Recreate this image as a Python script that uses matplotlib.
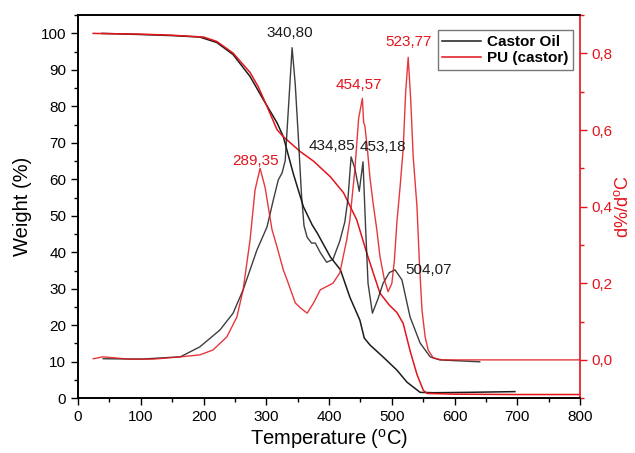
import numpy as np
import matplotlib
matplotlib.use('Agg')
import matplotlib.pyplot as plt
from matplotlib.ticker import MultipleLocator, FuncFormatter

plt.rcParams['font.family'] = ['Liberation Sans', 'DejaVu Sans']
plt.rcParams['mathtext.fontset'] = 'custom'
plt.rcParams['mathtext.rm'] = 'Liberation Sans'

# TGA - castor oil (weight %)
castor_T = [38, 60, 100, 150, 194, 221, 247, 274, 295, 317, 327, 343, 359, 373, 381, 402, 418, 433,
            449, 456, 465, 486, 508, 524, 545, 567, 620, 696]
castor_W = [100.0, 99.9, 99.7, 99.4, 99.0, 97.5, 94.2, 88.2, 81.9, 75.5, 71.7, 61.5, 52.5, 47.5, 45.3,
            38.7, 35.2, 27.7, 21.4, 16.5, 14.6, 11.3, 7.7, 4.4, 1.6, 1.5, 1.6, 1.8]

# TGA - PU (castor)
pu_T = [24, 60, 100, 150, 200, 221, 247, 274, 287, 301, 317, 327, 354, 375, 390, 402, 423, 444, 460,
        470, 481, 496, 508, 518, 529, 540, 550, 556, 600, 700, 800]
pu_W = [100.0, 99.9, 99.8, 99.5, 99.0, 97.8, 94.6, 89.3, 85.4, 80.0, 73.6, 71.7, 67.6, 65.0, 62.6,
        60.7, 56.3, 48.9, 39.8, 34.5, 28.8, 25.5, 23.5, 20.5, 13.0, 6.5, 2.2, 1.3, 1.1, 1.0, 1.0]

# DTG - castor oil (d%/dC)
castor_dT = [40, 100, 163, 194, 226, 247, 263, 285, 301, 311, 319, 325, 330, 336, 341, 346, 351, 356,
             360, 365, 372, 378, 386, 396, 406, 417, 425, 430, 435, 441, 448, 454, 458, 462, 469, 478,
             486, 496, 505, 516, 529, 545, 561, 576, 600, 640]
castor_D = [0.003, 0.002, 0.008, 0.034, 0.078, 0.122, 0.183, 0.287, 0.347, 0.417, 0.47, 0.488, 0.52,
            0.68, 0.815, 0.72, 0.58, 0.43, 0.35, 0.32, 0.305, 0.305, 0.28, 0.255, 0.262, 0.31, 0.36,
            0.42, 0.53, 0.50, 0.44, 0.517, 0.35, 0.2, 0.122, 0.16, 0.2, 0.228, 0.235, 0.209, 0.112,
            0.044, 0.008, 0.0, -0.002, -0.005]

# DTG - PU (castor)
pu_dT = [24, 40, 80, 120, 163, 194, 215, 237, 253, 263, 274, 282, 290, 298, 309, 317, 327, 333, 346,
         354, 365, 375, 386, 406, 417, 428, 433, 441, 447, 453, 455, 457, 461, 465, 470, 476, 481, 488,
         494, 500, 504, 508, 513, 518, 522, 526, 530, 534, 540, 544, 548, 553, 558, 566, 580, 700, 800]
pu_D = [0.003, 0.008, 0.002, 0.002, 0.008, 0.013, 0.026, 0.06, 0.112, 0.183, 0.313, 0.444, 0.5, 0.45,
        0.34, 0.295, 0.235, 0.209, 0.149, 0.136, 0.122, 0.148, 0.183, 0.2, 0.227, 0.313, 0.365, 0.496,
        0.63, 0.683, 0.62, 0.61, 0.55, 0.477, 0.41, 0.34, 0.27, 0.21, 0.178, 0.2, 0.26, 0.36, 0.45,
        0.55, 0.70, 0.79, 0.68, 0.53, 0.40, 0.25, 0.13, 0.06, 0.025, 0.005, 0.0, 0.0, 0.0]

# peak labels
peak_x = [338, 282, 526, 448, 405, 486, 558]
peak_y = [0.853, 0.52, 0.830, 0.717, 0.558, 0.556, 0.235]
peak_txt = ['340,80', '289,35', '523,77', '454,57', '434,85', '453,18', '504,07']
peak_red = [False, True, True, True, False, False, False]

RED = '#e3141c'
BLK = '#1c1c1c'

fig = plt.figure(figsize=(6.35, 4.53), dpi=100)
ax1 = fig.add_axes([0.123, 0.121, 0.7906, 0.8455])
ax2 = ax1.twinx()

l1, = ax1.plot(castor_T, castor_W, color=BLK, lw=1.1, label='Castor Oil')
l2, = ax1.plot(pu_T, pu_W, color=RED, lw=1.1, label='PU (castor)')
ax2.plot(castor_dT, castor_D, color=BLK, lw=1.0, alpha=0.85)
ax2.plot(pu_dT, pu_D, color=RED, lw=1.0, alpha=0.85)

for x, y, t, r in zip(peak_x, peak_y, peak_txt, peak_red):
    ax2.text(x, y, t, ha='center', va='center', fontsize=11, color=RED if r else BLK)

ax1.set_xlim(0, 800)
ax1.set_ylim(0, 105)
ax2.set_ylim(-0.1, 0.9)

ax1.xaxis.set_major_locator(MultipleLocator(100))
ax1.xaxis.set_minor_locator(MultipleLocator(50))
ax1.yaxis.set_major_locator(MultipleLocator(10))
ax1.yaxis.set_minor_locator(MultipleLocator(5))
ax2.yaxis.set_major_locator(MultipleLocator(0.2))
ax2.yaxis.set_minor_locator(MultipleLocator(0.1))
ax2.yaxis.set_major_formatter(FuncFormatter(lambda v, p: ('%.1f' % v).replace('.', ',').replace('-0,0', '0,0')))

ax1.tick_params(axis='both', which='major', direction='out', length=5, width=1, labelsize=11, top=False)
ax1.tick_params(axis='both', which='minor', direction='out', length=3, width=1, top=False)
ax2.tick_params(axis='y', which='major', direction='out', length=5, width=1, labelsize=11,
                colors=RED, pad=3)
ax2.tick_params(axis='y', which='minor', direction='out', length=3, width=1, colors=RED)

for s in ['left', 'bottom', 'top']:
    ax1.spines[s].set_linewidth(1.2)
    ax2.spines[s].set_linewidth(1.2)
ax2.spines['right'].set_color(RED)
ax2.spines['right'].set_linewidth(1.2)
ax1.spines['right'].set_visible(False)

ax1.set_xlabel(r'Temperature ($\mathregular{^{o}}$C)', fontsize=14.5, labelpad=2)
ax1.set_ylabel('Weight (%)', fontsize=14.5, labelpad=6)
ax2.set_ylabel(r'd%/d$\mathregular{^{o}}$C', fontsize=13, color=RED, labelpad=1)

leg = ax2.legend([l1, l2], ['Castor Oil', 'PU (castor)'], loc='upper right',
                 bbox_to_anchor=(0.985, 0.96), prop={'weight': 'bold', 'size': 11},
                 fancybox=False, framealpha=1, edgecolor='#777777', handlelength=2.5,
                 labelspacing=0.15, borderpad=0.3, handletextpad=0.4, borderaxespad=0)
leg.get_frame().set_linewidth(1.0)

fig.savefig('out.png', dpi=100)
